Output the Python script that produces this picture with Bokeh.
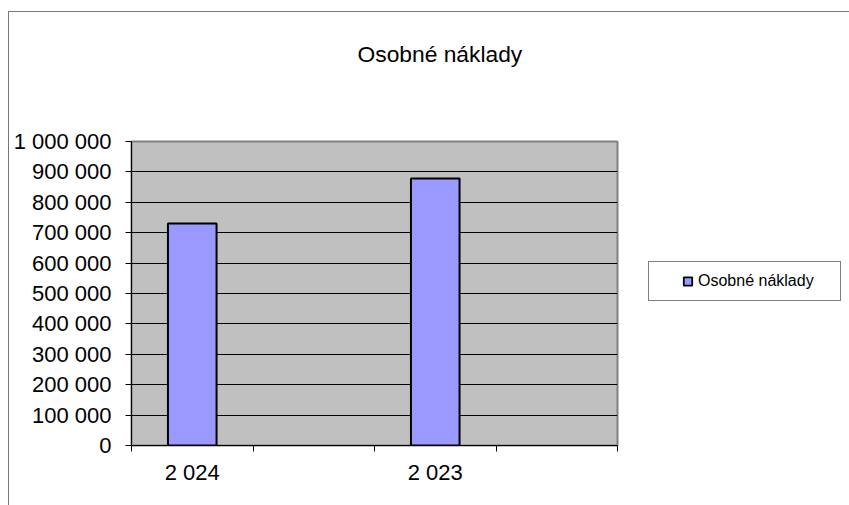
from bokeh.plotting import figure
from bokeh.models import Range1d, FixedTicker, Legend, LegendItem, Title
from bokeh.embed import file_html
from bokeh.resources import INLINE

chart_title = "Osobné náklady"
series_name = "Osobné náklady"
categories = ["2 024", "", "2 023", ""]
values = [730000, None, 878000, None]
y_ticks = [0, 100000, 200000, 300000, 400000, 500000, 600000, 700000, 800000, 900000, 1000000]

FONT = "Liberation Sans"
BAR_FILL = "#9999FF"

p = figure(frame_width=486, frame_height=304, output_backend="svg", toolbar_location=None,
           title=None,
           x_range=Range1d(-0.5, len(categories) - 0.5), y_range=Range1d(y_ticks[0], y_ticks[-1]),
           min_border_left=131, min_border_right=232, min_border_top=141, min_border_bottom=60)
p.background_fill_color = "#C0C0C0"
p.border_fill_color = None
p.outline_line_color = "#808080"
p.outline_line_width = 2
# outer chart-area border (left and top edges visible in the crop)
p.styles = {
    "background-color": "white",
    "background-image": "linear-gradient(#777777, #777777), linear-gradient(#777777, #777777)",
    "background-size": "1px 100%, 100% 1px",
    "background-position": "8px 11px, 8px 11px",
    "background-repeat": "no-repeat",
}

xs = [i for i, v in enumerate(values) if v is not None]
tops = [v for v in values if v is not None]
r = p.vbar(x=xs, top=tops, width=0.4, bottom=0, fill_color=BAR_FILL,
           line_color="black", line_width=2)

# axes
p.xgrid.visible = False
p.ygrid.ticker = FixedTicker(ticks=y_ticks)
p.ygrid.grid_line_color = "black"
p.ygrid.grid_line_width = 1

p.yaxis.ticker = FixedTicker(ticks=y_ticks)
p.yaxis.major_label_overrides = {t: f"{t:,}".replace(",", " ") for t in y_ticks}
p.yaxis.axis_line_color = "black"
p.yaxis.major_tick_line_color = "black"
p.yaxis.major_tick_out = 6
p.yaxis.major_tick_in = 0
p.yaxis.minor_tick_line_color = None
p.yaxis.major_label_standoff = 14
p.yaxis.major_label_text_font = FONT
p.yaxis.major_label_text_font_size = "22px"
p.yaxis.major_label_text_color = "black"

label_ticks = [i for i, c in enumerate(categories) if c]
p.xaxis.ticker = FixedTicker(ticks=label_ticks,
                             minor_ticks=[i - 0.5 for i in range(len(categories) + 1)])
p.xaxis.major_label_overrides = {i: categories[i] for i in label_ticks}
p.xaxis.axis_line_color = "black"
p.xaxis.major_tick_line_color = None
p.xaxis.major_tick_out = 0
p.xaxis.major_tick_in = 0
p.xaxis.minor_tick_line_color = "black"
p.xaxis.minor_tick_out = 6
p.xaxis.minor_tick_in = 0
p.xaxis.major_label_standoff = 8
p.xaxis.major_label_text_font = FONT
p.xaxis.major_label_text_font_size = "22px"
p.xaxis.major_label_text_color = "black"

# title (spacer keeps it high above the plot area, as in the original)
p.add_layout(Title(text=" ", text_font_size="1px", standoff=72), "above")
p.add_layout(Title(text=chart_title, align="left", offset=226, vertical_align="bottom",
                   standoff=0, text_font=FONT, text_font_size="22.8px",
                   text_font_style="normal", text_color="black"), "above")

# legend (square key like the original; proxy renderer is hidden in the plot)
proxy = p.scatter(x=xs, y=tops, marker="square", fill_color=BAR_FILL,
                  line_color="black", line_width=1.8, visible=False)
legend = Legend(items=[LegendItem(label=series_name, renderers=[proxy])], location=(31, 144),
                title=" ", title_location="left", title_text_font_size="1px",
                title_standoff=21,
                padding=6, margin=0, border_line_color="black", border_line_width=1,
                background_fill_color="white", background_fill_alpha=1.0,
                glyph_width=21, glyph_height=26, label_standoff=0,
                label_width=136, label_height=26,
                label_text_font=FONT, label_text_font_size="16px", label_text_color="black")
p.add_layout(legend, "right")

open("out.html", "w").write(file_html(p, INLINE))
